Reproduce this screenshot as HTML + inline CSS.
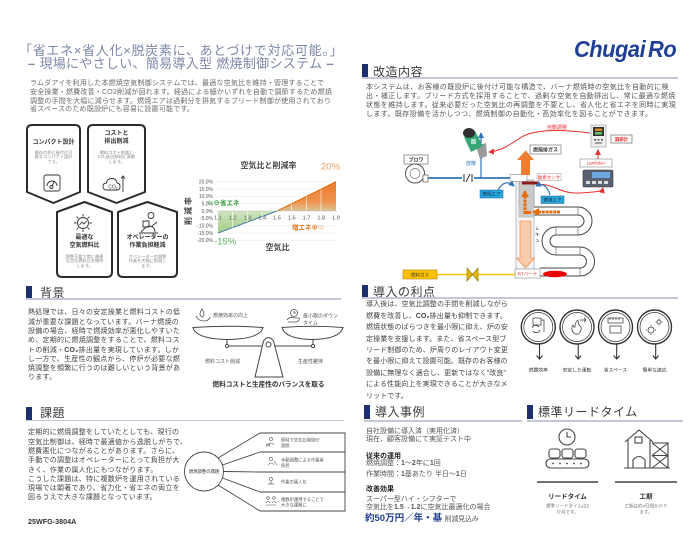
<!DOCTYPE html>
<html><head><meta charset="utf-8">
<style>
*{margin:0;padding:0;box-sizing:border-box}
html,body{width:700px;height:560px;background:#fff;overflow:hidden}
#p{position:relative;width:700px;height:560px;background:#fff;overflow:hidden}
.t{position:absolute;white-space:nowrap;font-family:"Liberation Sans","Noto Sans CJK JP",sans-serif;}
svg{position:absolute;left:0;top:0}
svg text{font-family:"Liberation Sans","Noto Sans CJK JP",sans-serif;}
.h{font-size:12px;color:#3a3a3a;line-height:14px;letter-spacing:0.5px}
.bar{position:absolute;background:#1e2f6e;width:6px}
.ul{position:absolute;height:1.5px;background:#c3c8d8}
.c{text-align:center}
</style></head><body><div id="p">

<svg width="700" height="560" viewBox="0 0 700 560">
<defs>
<marker id="ar" markerWidth="6" markerHeight="6" refX="5" refY="3" orient="auto" markerUnits="userSpaceOnUse"><path d="M0,0 L6,3 L0,6 Z" fill="#e8302f"/></marker>
<marker id="ab" markerWidth="6" markerHeight="6" refX="5" refY="3" orient="auto" markerUnits="userSpaceOnUse"><path d="M0,0 L6,3 L0,6 Z" fill="#2e75b6"/></marker>
<marker id="ao" markerWidth="8" markerHeight="8" refX="6" refY="4" orient="auto" markerUnits="userSpaceOnUse"><path d="M0,0 L7,4 L0,8 Z" fill="#e46c0a"/></marker>
<linearGradient id="gg" x1="0" y1="0" x2="0" y2="1"><stop offset="0" stop-color="#cfe5c0"/><stop offset="1" stop-color="#a3cd86"/></linearGradient>
<linearGradient id="go" x1="0" y1="0" x2="0" y2="1"><stop offset="0" stop-color="#ec7a2c"/><stop offset="0.7" stop-color="#ef9450"/><stop offset="1" stop-color="#d9c59a"/></linearGradient>
</defs>

<!-- Cards -->
<g fill="#fff" stroke="#2b2b2b" stroke-width="2" stroke-linejoin="round">
<path d="M32,125 H75 Q80,125 80,130 V192 L53.5,203 L27,192 V130 Q27,125 32,125 Z"/>
<path d="M93,125 H140 Q145,125 145,130 V192 L116.5,203 L88,192 V130 Q88,125 93,125 Z"/>
<path d="M57,212 L84.5,202 L112,212 V272 Q112,277 107,277 H62 Q57,277 57,272 Z"/>
<path d="M118,212 L147.5,202 L177,212 V272 Q177,277 172,277 H123 Q118,277 118,272 Z"/>
</g>
<!-- card icons -->
<g fill="none" stroke="#333" stroke-width="0.9">
<rect x="44" y="175" width="16" height="16" rx="2"/>
<path d="M47,186 A5,5 0 0 1 57,186"/>
<path d="M52,186 L54.5,181"/>
<circle cx="51.5" cy="187" r="1.5"/>
<path d="M107,190 Q103,190 103,186.5 Q103,183 106.5,183 Q107,178.5 112,178.5 Q116.5,178.5 117,183 Q120.5,183.5 120,187 Q120,190 117,190 Z"/>
<path d="M123,192 V176 M121,178.5 L123,176 L125,178.5"/>
<circle cx="83" cy="223" r="5.5"/>
<path d="M83,214 V216.5 M83,229.5 V232 M74,223 H76.5 M89.5,223 H92 M76.6,216.6 L78.4,218.4 M87.6,227.6 L89.4,229.4 M76.6,229.4 L78.4,227.6 M87.6,218.4 L89.4,216.6"/>
<path d="M79.5,225 L82,222 L84,224 L86.5,221"/>
<circle cx="151" cy="215.5" r="3"/>
<path d="M141,232 Q146,226 150,226 Q155,227 155,232 M139,233 H158 M143,221 H149 V227 H143 Z M152,226 L157,222"/>
</g>
<text x="113" y="188.5" font-size="5" fill="#333" text-anchor="middle">CO<tspan font-size="3.5" dy="1">2</tspan></text>

<!-- Chart -->
<g stroke="#e6e6e6" stroke-width="0.5">
<line x1="217" y1="181.7" x2="337" y2="181.7"/><line x1="217" y1="189" x2="337" y2="189"/>
<line x1="217" y1="196.4" x2="337" y2="196.4"/><line x1="217" y1="203.7" x2="337" y2="203.7"/>
<line x1="217" y1="218.3" x2="337" y2="218.3"/><line x1="217" y1="225.6" x2="337" y2="225.6"/>
<line x1="217" y1="233" x2="337" y2="233"/><line x1="217" y1="240.3" x2="337" y2="240.3"/>
</g>
<polygon points="218,211 218,233 277,211" fill="url(#gg)"/>
<line x1="218" y1="233" x2="277" y2="211" stroke="#4f7ea6" stroke-width="1"/>
<polygon points="277,211 336,211 336,181.7" fill="url(#go)"/>
<line x1="277" y1="211" x2="336" y2="181.7" stroke="#e46c0a" stroke-width="1"/>
<g stroke="#fff" stroke-width="0.6">
<line x1="291.6" y1="211" x2="291.6" y2="203.8"/><line x1="306.3" y1="211" x2="306.3" y2="196.5"/><line x1="321" y1="211" x2="321" y2="189.2"/>
<line x1="232.7" y1="211" x2="232.7" y2="227.5"/><line x1="247.5" y1="211" x2="247.5" y2="222"/><line x1="262.2" y1="211" x2="262.2" y2="216.6"/>
</g>
<line x1="217" y1="211" x2="337" y2="211" stroke="#bbb" stroke-width="0.6"/>
<g font-size="5" fill="#555" text-anchor="end">
<text x="213" y="183.5">20.0%</text><text x="213" y="190.8">15.0%</text><text x="213" y="198.2">10.0%</text>
<text x="213" y="205.5">5.0%</text><text x="213" y="212.8">0.0%</text><text x="213" y="220.1">-5.0%</text>
<text x="213" y="227.4">-10.0%</text><text x="213" y="234.8">-15.0%</text><text x="213" y="242.1">-20.0%</text>
</g>
<g font-size="5.5" fill="#555" text-anchor="middle">
<text x="218" y="219.5">1.1</text><text x="232.7" y="219.5">1.2</text><text x="247.5" y="219.5">1.3</text>
<text x="262.2" y="219.5">1.4</text><text x="277" y="219.5">1.5</text><text x="291.7" y="219.5">1.6</text>
<text x="306.5" y="219.5">1.7</text><text x="321.2" y="219.5">1.8</text><text x="336" y="219.5">1.9</text>
</g>
<text x="268.5" y="168" font-size="8" font-weight="bold" fill="#444" text-anchor="middle">空気比と削減率</text>
<text x="321" y="169.5" font-size="9.5" fill="#f0a060">20%</text>
<text x="214" y="244.5" font-size="9.5" fill="#5cb85c">-15%</text>
<text x="207" y="205" font-size="6.5" font-weight="bold" fill="#2e9a3e">⇦⊖省エネ</text>
<text x="292" y="229.5" font-size="6.5" font-weight="bold" fill="#e8731e">増エネ⊕⇨</text>
<text x="277.5" y="250" font-size="8" font-weight="bold" fill="#444" text-anchor="middle">空気比</text>
<text transform="translate(191,210) rotate(-90)" font-size="8" font-weight="bold" fill="#444" text-anchor="middle" letter-spacing="2">削減率</text>

<!-- 改造内容 diagram -->
<rect x="404" y="155" width="24" height="9" fill="#fff" stroke="#555" stroke-width="0.6"/>
<text x="416" y="161.6" font-size="5" font-weight="bold" fill="#333" text-anchor="middle">ブロワ</text>
<circle cx="415" cy="173.5" r="9.5" fill="#fff" stroke="#555" stroke-width="1"/>
<circle cx="415" cy="173.5" r="5" fill="none" stroke="#777" stroke-width="0.7"/>
<rect x="423" y="175" width="5" height="7" fill="#fff" stroke="#555" stroke-width="0.7"/>
<line x1="428" y1="178" x2="513" y2="178" stroke="#2e75b6" stroke-width="1.8"/>
<rect x="462" y="173" width="12" height="10" fill="#fff"/>
<g stroke="#333" stroke-width="1"><line x1="464" y1="174" x2="464" y2="182"/><line x1="472" y1="174" x2="472" y2="182"/><line x1="466" y1="182" x2="470" y2="174"/></g>
<line x1="481" y1="178" x2="481" y2="133" stroke="#2e75b6" stroke-width="1.2" marker-end="url(#ab)"/>
<text x="471" y="165" font-size="5" fill="#2e75b6" text-anchor="middle">放散</text>
<polygon points="476,146 486,143 487,156 480,159" fill="#9a9a9a"/>
<polygon points="464,137 475,131 483,146 471,152" fill="#35a874"/>
<ellipse cx="469" cy="133" rx="6" ry="5" fill="#2f2f2f"/>
<rect x="471" y="139" width="5" height="5" fill="#fff" opacity="0.6"/>
<path d="M590,133 C565,130 535,128 520,138 C508,146 500,151 489,152" fill="none" stroke="#e8302f" stroke-width="1" marker-end="url(#ar)"/>
<text x="557" y="129" font-size="5" fill="#e8302f" text-anchor="middle">自動調整</text>
<rect x="516" y="181" width="18" height="90" fill="#f3f5f8" stroke="#a8b0c0" stroke-width="0.8"/>
<rect x="519" y="180" width="15" height="37" fill="#c9c9c9" stroke="#999" stroke-width="0.6"/>
<path d="M528,211 H578 A10,10 0 0 1 578,231 H556 A10,10 0 0 0 556,251 H580 A10.5,10.5 0 0 1 580,272 H540" fill="none" stroke="#444" stroke-width="9"/>
<path d="M528,211 H578 A10,10 0 0 1 578,231 H556 A10,10 0 0 0 556,251 H580 A10.5,10.5 0 0 1 580,272 H540" fill="none" stroke="#fff" stroke-width="7"/>
<g stroke="#555" stroke-width="0.6"><line x1="578" y1="207" x2="578" y2="215"/><line x1="556" y1="227" x2="556" y2="235"/><line x1="578" y1="227" x2="578" y2="235"/><line x1="556" y1="247" x2="556" y2="255"/><line x1="580" y1="247" x2="580" y2="255"/><line x1="580" y1="268" x2="580" y2="276"/></g>
<rect x="519" y="206" width="15" height="11" fill="#c9c9c9"/>
<rect x="510" y="174.5" width="17" height="7" fill="#fff" stroke="#888" stroke-width="0.6"/>
<polygon points="521,175 530,175 530,160 534,160 525.7,150.5 517,160 521,160" fill="#ed7d31"/>
<rect x="530" y="145" width="31" height="9" fill="#fff" stroke="#666" stroke-width="0.6"/>
<text x="545.5" y="151.6" font-size="5" font-weight="bold" fill="#333" text-anchor="middle">燃焼排ガス</text>
<path d="M560,212 H533" fill="none" stroke="#e46c0a" stroke-width="3" stroke-dasharray="3 0.8" marker-end="url(#ao)"/>
<path d="M525,214 V191" fill="none" stroke="#e46c0a" stroke-width="3" stroke-dasharray="3 0.8" marker-end="url(#ao)"/>
<path d="M525,212.5 H531" stroke="#e46c0a" stroke-width="3"/>
<rect x="522" y="181.5" width="17" height="3" fill="#8b1a1a"/>
<rect x="537" y="173.5" width="24" height="7" fill="#fff" stroke="#999" stroke-width="0.5"/>
<text x="549" y="179" font-size="4.5" fill="#e8302f" text-anchor="middle">酸素センサ</text>
<path d="M539,184 C556,185 560,194 580,193 C595,192 602,192 603,188" fill="none" stroke="#e8302f" stroke-width="1" marker-end="url(#ar)"/>
<path d="M498,190 Q505,178 514,186" fill="none" stroke="#2e75b6" stroke-width="1.2" marker-end="url(#ab)"/>
<path d="M550,195 Q546,181 536,186" fill="none" stroke="#2e75b6" stroke-width="1.2" marker-end="url(#ab)"/>
<rect x="480" y="190" width="23" height="8" fill="#29a8e0" stroke="#1a5a8a" stroke-width="0.5"/>
<text x="491.5" y="195.6" font-size="4.5" fill="#123" text-anchor="middle">燃焼エア</text>
<rect x="541" y="196" width="23" height="7.5" fill="#29a8e0" stroke="#1a5a8a" stroke-width="0.5"/>
<text x="552.5" y="201.5" font-size="4.5" fill="#123" text-anchor="middle">燃焼エア</text>
<polygon points="520,221 531,221 531,258 534.5,258 525.5,268 516.5,258 520,258" fill="#f8cbad" stroke="#ed7d31" stroke-width="0.6"/>
<text x="535" y="230" font-size="4.5" fill="#333">レ</text><text x="535" y="236" font-size="4.5" fill="#333">キ</text><text x="535" y="242" font-size="4.5" fill="#333">ュ</text>
<rect x="515" y="269" width="25" height="9" fill="#fff" stroke="#888" stroke-width="0.6"/>
<text x="527.5" y="275.6" font-size="4.5" fill="#e8302f" text-anchor="middle">RTバーナ</text>
<ellipse cx="555" cy="274" rx="12" ry="3.2" fill="#e00"/>
<line x1="437" y1="274.5" x2="515" y2="274.5" stroke="#ffc000" stroke-width="1.5"/>
<rect x="403" y="270" width="34" height="9" fill="#ffc000" stroke="#b08000" stroke-width="0.6"/>
<text x="420" y="276.5" font-size="4.5" fill="#333" text-anchor="middle">燃料ガス</text>
<polygon points="467,268 472.5,274.5 478,268 478,281 472.5,274.5 467,281" fill="#e6b800" stroke="#8a6d00" stroke-width="0.6"/>
<rect x="591" y="125" width="15" height="22" fill="#eee" stroke="#999" stroke-width="0.6"/>
<rect x="593" y="127" width="11" height="9" fill="#333"/>
<rect x="595" y="128.5" width="7" height="2.5" fill="#d98b2b"/><rect x="595" y="132" width="7" height="2.5" fill="#6cc070"/>
<g fill="#555"><rect x="594" y="139" width="2" height="1.5"/><rect x="597.5" y="139" width="2" height="1.5"/><rect x="601" y="139" width="2" height="1.5"/><rect x="595" y="142.5" width="7" height="1"/></g>
<rect x="611" y="135" width="21" height="8" fill="#fff" stroke="#555" stroke-width="0.6"/>
<text x="621.5" y="141" font-size="4.5" font-weight="bold" fill="#e8302f" text-anchor="middle">調節計</text>
<line x1="598" y1="159" x2="598" y2="150" stroke="#e8302f" stroke-width="1" marker-end="url(#ar)"/>
<rect x="580" y="159" width="32" height="8" fill="#fff" stroke="#888" stroke-width="0.6"/>
<text x="596" y="164.7" font-size="4.5" fill="#e8302f" text-anchor="middle">Lambda-i</text>
<rect x="583" y="170" width="30" height="17" rx="1.5" fill="#5a6170" stroke="#333" stroke-width="0.6"/>
<rect x="592" y="172" width="18" height="6" fill="#6fa8dc"/>
<g fill="#ddd"><rect x="586" y="181" width="4" height="3"/><rect x="592" y="181" width="4" height="3"/><rect x="598" y="181" width="4" height="3"/><rect x="604" y="181" width="4" height="3"/></g>

<!-- 背景 scale -->
<g stroke="#444" stroke-width="1" fill="#fff">
<line x1="227" y1="339" x2="227" y2="346"/>
<line x1="313" y1="339" x2="313" y2="346"/>
<line x1="227" y1="346" x2="313" y2="346"/>
<path d="M193,327.5 Q228,325 263,327.5 Q260,339 228,339.5 Q196,339 193,327.5 Z"/>
<path d="M282,327.5 Q312,325 343,327.5 Q340,339 312.5,339.5 Q285,339 282,327.5 Z"/>
<circle cx="227" cy="346" r="1.6"/>
<circle cx="313" cy="346" r="1.6"/>
<path d="M263.5,341 Q268.5,334 273.5,341 L283,377 H255 Z"/>
<circle cx="268.5" cy="344.5" r="2.5"/>
</g>
<g fill="none" stroke="#555" stroke-width="0.8">
<path d="M202,309 Q198,315 202,317 Q206,315 202,309 Z"/>
<path d="M196,316 Q198,321 204,321 Q209,321 210,317"/>
<circle cx="294" cy="313" r="3.5"/>
<path d="M294,311 V313 H296"/>
<path d="M287,320 Q290,316 294,318 L299,318 Q300,321 296,322 H288"/>
</g>
<text x="213" y="317" font-size="5" fill="#555">燃焼効率の向上</text>
<text x="303" y="317.5" font-size="5" fill="#555">最小限のダウン</text>
<text x="303" y="324.5" font-size="5" fill="#555">タイム</text>
<text x="205" y="362.8" font-size="5" fill="#555">燃料コスト削減</text>
<text x="298" y="362.8" font-size="5" fill="#555">生産性維持</text>
<text x="268.5" y="386.3" font-size="6.6" font-weight="bold" fill="#333" text-anchor="middle">燃料コストと生産性のバランスを取る</text>

<!-- 導入の利点 icons -->
<g fill="none" stroke="#333">
<g stroke-width="1.4"><circle cx="538.3" cy="327" r="17"/><circle cx="577" cy="327" r="17"/><circle cx="615.5" cy="327" r="17"/><circle cx="654.5" cy="327" r="17"/></g>
<g stroke-width="0.7"><circle cx="538.3" cy="327" r="14.5"/><circle cx="577" cy="327" r="14.5"/><circle cx="615.5" cy="327" r="14.5"/><circle cx="654.5" cy="327" r="14.5"/></g>
<g stroke-width="1.1">
<path d="M539.5,344 V359 M536.5,355.5 L539.5,359 L542.5,355.5"/>
<path d="M578.2,344 V359 M575.2,355.5 L578.2,359 L581.2,355.5"/>
<path d="M616.7,344 V359 M613.7,355.5 L616.7,359 L619.7,355.5"/>
<path d="M655.7,344 V359 M652.7,355.5 L655.7,359 L658.7,355.5"/>
</g>
<g stroke-width="0.7">
<rect x="533" y="318" width="8" height="7"/><path d="M541,320 H544 V332"/><path d="M532,328 A4,4 0 0 1 539,327 M540,330 A4,4 0 0 1 533,331"/>
<path d="M575,334 Q570,330 573,325 Q574,328 575,327 Q575,322 578,320 Q578,325 581,327 Q582,331 578,334 Z"/><path d="M580,320 H586 M584,318 L586,320 L584,322"/>
<rect x="608" y="318" width="15" height="5"/><path d="M610,318 V320 M613,318 V320 M616,318 V320 M619,318 V320"/><rect x="610" y="326" width="11" height="7"/>
<circle cx="651" cy="330" r="3"/><path d="M651,325 V326 M651,334 V335 M646,330 H647 M655,330 H656"/><circle cx="659" cy="322" r="2"/><path d="M659,318.5 V319.5 M659,324.5 V325.5 M655.5,322 H656.5 M661.5,322 H662.5"/>
</g>
</g>
<g font-size="4.8" fill="#333" text-anchor="middle">
<text x="538.3" y="371.5">燃費効率</text><text x="577" y="371.5">安定した運転</text><text x="615.5" y="371.5">省スペース</text><text x="654.5" y="371.5">簡単な適応</text>
</g>

<!-- 課題 diagram -->
<g fill="none" stroke="#444" stroke-width="0.9">
<circle cx="204" cy="471.5" r="19.5"/>
<line x1="218" y1="458" x2="260" y2="433"/>
<line x1="222.5" y1="465" x2="260" y2="452"/>
<line x1="223.5" y1="471.5" x2="260" y2="472"/>
<line x1="222.5" y1="478" x2="260" y2="492"/>
<line x1="218" y1="485" x2="260" y2="511"/>
<path d="M260,433 H345 V511 H260 M260,452 H345 M260,472 H345 M260,492 H345"/>
</g>
<text x="204" y="473.2" font-size="4.3" fill="#333" text-anchor="middle">燃焼調整の課題</text>
<g fill="none" stroke="#555" stroke-width="0.6">
<circle cx="271" cy="439" r="1.6"/><path d="M268,445 Q271,441 274,445"/><rect x="266.5" y="444" width="3" height="2"/>
<circle cx="271" cy="459" r="1.6"/><path d="M268,465 Q271,461 274,465 M274,461 L277,465"/>
<circle cx="271" cy="479" r="1.6"/><path d="M268,485 Q271,481 274,485 M271,481 V485"/>
<circle cx="268" cy="498" r="1.3"/><circle cx="274" cy="498" r="1.3"/><path d="M266,503 Q268,500 270,503 M272,503 Q274,500 276,503 M266,505 H276"/>
</g>
<g font-size="4.3" fill="#555">
<text x="281" y="441.5">経時で空気比制御が</text><text x="281" y="447">逸脱</text>
<text x="281" y="461.5">手動調整による作業者</text><text x="281" y="467">負担</text>
<text x="281" y="483.5">作業の属人化</text>
<text x="281" y="501">複数炉運用することで</text><text x="281" y="506.5">大きな課題に</text>
</g>

<!-- lead time icons -->
<g fill="none" stroke="#444" stroke-width="1.1">
<circle cx="567" cy="437" r="8"/>
<path d="M567,432 V437 H571"/>
<rect x="549" y="449" width="11" height="9" rx="2.5"/>
<rect x="562" y="449" width="11" height="9" rx="2.5"/>
<rect x="575" y="449" width="11" height="9" rx="2.5"/>
<rect x="546" y="459" width="43" height="9" rx="4.5"/>
<path d="M625,442 L639,430 L653,442"/>
<path d="M628,468 V440 M650,440 V468"/>
<rect x="635" y="437" width="7" height="6"/>
<path d="M633,468 V460 Q639,453 645,460 V468"/>
<path d="M652,443 H668 V468 H652 M652,455.5 H668 M652,443 L668,455.5 M668,443 L652,455.5 M652,455.5 L668,468 M668,455.5 L652,468"/>
<line x1="624" y1="468" x2="670" y2="468"/>
</g>
<g fill="#444"><circle cx="553" cy="463.5" r="0.9"/><circle cx="560" cy="463.5" r="0.9"/><circle cx="567" cy="463.5" r="0.9"/><circle cx="574" cy="463.5" r="0.9"/><circle cx="581" cy="463.5" r="0.9"/></g>
<line x1="537" y1="482" x2="598" y2="482" stroke="#444" stroke-width="1.5"/>
<line x1="615" y1="482" x2="677" y2="482" stroke="#444" stroke-width="1.5"/>
<text x="567.5" y="498.5" font-size="6.5" font-weight="bold" fill="#333" text-anchor="middle">リードタイム</text>
<text x="646" y="498.5" font-size="6.5" font-weight="bold" fill="#333" text-anchor="middle">工期</text>
<g font-size="4.5" fill="#777" text-anchor="middle">
<text x="567.5" y="507.5">標準リードタイムは5</text><text x="567.5" y="513.5">か月です。</text>
<text x="646" y="507.5">工期は約4日間かかり</text><text x="646" y="513.5">ます。</text>
</g>
</svg>

<!-- Title -->
<div class="t" style="left:19px;top:42.5px;font-size:13px;line-height:15px;color:#7d87a8;letter-spacing:0.7px">「省エネ×省人化×脱炭素に、あとづけで対応可能。」</div>
<div class="t" style="left:28px;top:55.5px;font-size:13px;line-height:15px;color:#7d87a8;letter-spacing:0.3px"><b>–</b> 現場にやさしい、簡易導入型 燃焼制御システム <b>–</b></div>

<!-- Logo -->
<div class="t" style="left:574px;top:35px;font-size:23px;line-height:28px;font-weight:bold;font-style:italic;color:#1f3f95;transform:scaleX(0.95);transform-origin:0 0;letter-spacing:-0.5px">Chugai<span style="margin-left:3px">Ro</span></div>

<!-- Intro -->
<div class="t" style="left:30px;top:80px;font-size:7px;line-height:8.8px;color:#6b6b6b;letter-spacing:0.2px">ラムダアイを利用した本燃焼空気制御システムでは、最適な空気比を維持・管理することで<br>安全操業・燃費改善・CO2削減が図れます。経過による細かいずれを自動で調節するため燃焼<br>調整の手間を大幅に減らせます。燃焼エアは過剰分を排気するブリード制御が使用されており<br>省スペースのため既設炉にも容易に設置可能です。</div>

<!-- Card texts -->
<div class="t c" style="left:28px;top:139px;width:51px;font-size:6px;line-height:8px;font-weight:bold;color:#333">コンパクト設計</div>
<div class="t c" style="left:28px;top:150.5px;width:51px;font-size:4.2px;line-height:4.8px;color:#888">既存の炉に後付け可<br>能なコンパクト設計<br>です。</div>
<div class="t c" style="left:89px;top:130px;width:55px;font-size:6px;line-height:8px;font-weight:bold;color:#333">コストと<br>排出削減</div>
<div class="t c" style="left:89px;top:150.5px;width:55px;font-size:4.2px;line-height:4.8px;color:#888">燃料コスト削減と<br>CO₂排出抑制に貢献<br>します。</div>
<div class="t c" style="left:58px;top:234px;width:53px;font-size:6px;line-height:8px;font-weight:bold;color:#333">最適な<br>空気燃料比</div>
<div class="t c" style="left:58px;top:254.5px;width:53px;font-size:4.2px;line-height:4.8px;color:#888">調整不要で常に最適<br>な空気燃料比を維持<br>します。</div>
<div class="t c" style="left:119px;top:234px;width:57px;font-size:6px;line-height:8px;font-weight:bold;color:#333">オペレーターの<br>作業負担軽減</div>
<div class="t c" style="left:119px;top:254.5px;width:57px;font-size:4.2px;line-height:4.8px;color:#888">オペレーターの調整<br>作業を大幅に削減し<br>ます。</div>

<!-- 改造内容 -->
<div class="bar" style="left:362px;top:64px;height:14px"></div>
<div class="t h" style="left:373px;top:65px">改造内容</div>
<div class="ul" style="left:362px;top:77px;width:316px"></div>
<div class="t" style="left:366px;top:84px;font-size:7px;line-height:8.9px;color:#555;letter-spacing:0.4px">本システムは、お客様の既設炉に後付け可能な構造で、バーナ燃焼時の空気比を自動的に検<br>出・補正します。ブリード方式を採用することで、過剰な空気を自動排出し、常に最適な燃焼<br>状態を維持します。従来必要だった空気比の再調整を不要とし、省人化と省エネを同時に実現<br>します。既存設備を活かしつつ、燃焼制御の自動化・高効率化を図ることができます。</div>

<!-- 背景 -->
<div class="bar" style="left:26px;top:286px;height:14px"></div>
<div class="t h" style="left:40px;top:286px">背景</div>
<div class="ul" style="left:26px;top:298px;width:315px"></div>
<div class="t" style="left:28px;top:308.4px;font-size:7px;line-height:9.3px;color:#444;letter-spacing:0.25px">熱処理では、日々の安定操業と燃料コストの低<br>減が重要な課題となっています。バーナ燃焼の<br>設備の場合、経時で燃焼効率が悪化しやすいた<br>め、定期的に燃焼調整をすることで、燃料コス<br>トの削減・<b>CO₂</b>排出量を実現しています。しか<br>し一方で、生産性の観点から、停炉が必要な燃<br>焼調整を頻繁に行うのは難しいという背景があ<br>ります。</div>

<!-- 導入の利点 -->
<div class="bar" style="left:362px;top:285px;height:13px"></div>
<div class="t h" style="left:373px;top:285px">導入の利点</div>
<div class="ul" style="left:362px;top:297px;width:316px"></div>
<div class="t" style="left:366px;top:299.3px;font-size:7px;line-height:11.4px;color:#444;letter-spacing:0.1px">導入後は、空気比調整の手間を削減しながら<br>燃費を改善し、<b>CO₂</b>排出量も抑制できます。<br>燃焼状態のばらつきを最小限に抑え、炉の安<br>定操業を支援します。また、省スペース型ブ<br>リード制御のため、炉周りのレイアウト変更<br>を最小限に抑えて設置可能。既存のお客様の<br>設備に無理なく適合し、更新ではなく"改良"<br>による性能向上を実現できることが大きなメ<br>リットです。</div>

<!-- 課題 -->
<div class="bar" style="left:26px;top:407px;height:13px"></div>
<div class="t h" style="left:40px;top:406px">課題</div>
<div class="ul" style="left:26px;top:419.5px;width:318px"></div>
<div class="t" style="left:28px;top:428.4px;font-size:7px;line-height:9.3px;color:#444;letter-spacing:0.25px">定期的に燃焼調整をしていたとしても、現行の<br>空気比制御は、経時で最適値から逸脱しがちで、<br>燃費悪化につながることがあります。さらに、<br>手動での調整はオペレーターにとって負担が大<br>きく、作業の属人化にもつながります。<br>こうした課題は、特に複数炉を運用されている<br>現場では顕著であり、省力化・省エネの両立を<br>図るうえで大きな課題となっています。</div>
<div class="t" style="left:28px;top:518px;font-size:7.2px;line-height:8px;font-weight:bold;color:#333">25WFG-3804A</div>

<!-- 導入事例 -->
<div class="bar" style="left:364px;top:405px;height:14px"></div>
<div class="t h" style="left:375px;top:405px">導入事例</div>
<div class="ul" style="left:364px;top:420px;width:158px"></div>
<div class="t" style="left:366px;top:427.5px;font-size:7px;line-height:8.5px;color:#555">自社設備に導入済（実用化済）<br>現在、顧客設備にて実証テスト中</div>
<div class="t" style="left:366px;top:452.5px;font-size:7px;line-height:8.5px;color:#222;font-weight:bold">従来の運用</div>
<div class="t" style="left:366px;top:460px;font-size:7px;line-height:8.5px;color:#555">燃焼調整：<b>1</b>〜<b>2</b>年に<b>1</b>回</div>
<div class="t" style="left:366px;top:470.7px;font-size:7px;line-height:8.5px;color:#555">作業時間：<b>1</b>基あたり 半日〜<b>1</b>日</div>
<div class="t" style="left:366px;top:485.7px;font-size:7px;line-height:8.5px;color:#222;font-weight:bold">改善効果</div>
<div class="t" style="left:366px;top:495.5px;font-size:7px;line-height:8.5px;color:#555">スーパー型ハイ・シフターで</div>
<div class="t" style="left:366px;top:504px;font-size:7px;line-height:8.5px;color:#555">空気比を<b>1.5→1.2</b>に空気比最適化の場合</div>
<div class="t" style="left:365px;top:513px;font-size:9.5px;line-height:12px;color:#1f3f95;font-weight:bold">約50万円／年・基 <span style="font-size:6.8px;font-weight:normal;color:#555">削減見込み</span></div>

<!-- 標準リードタイム -->
<div class="bar" style="left:527px;top:405px;height:14px"></div>
<div class="t h" style="left:538px;top:405px">標準リードタイム</div>
<div class="ul" style="left:527px;top:420px;width:156px"></div>

</div></body></html>
